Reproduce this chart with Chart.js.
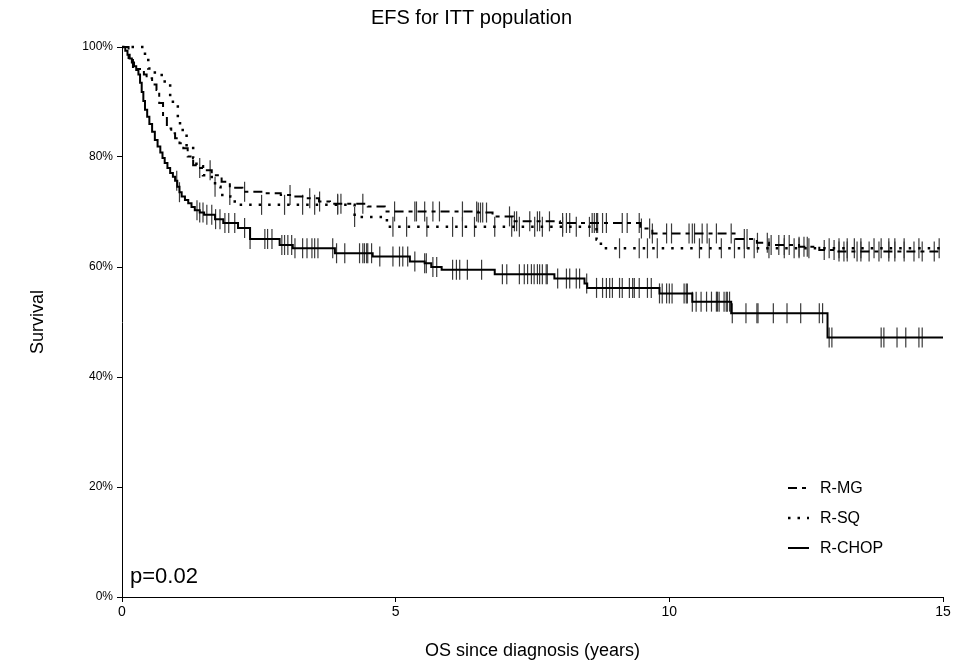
<!DOCTYPE html>
<html>
<head>
<meta charset="utf-8">
<script src="https://cdn.jsdelivr.net/npm/chart.js@4/dist/chart.umd.min.js"></script>
<style>
  html, body { margin: 0; padding: 0; background: #fff; }
  #wrap { width: 969px; height: 664px; }
</style>
</head>
<body>
<div id="wrap"><canvas id="myChart" width="969" height="664"></canvas></div>
<script>
// Kaplan-Meier steps: time (years) and survival (%) after the drop
const mgTime = [0, 0.12, 0.2, 0.4, 0.45, 0.55, 0.63, 0.68, 0.75, 0.82, 0.9, 0.97, 1.05, 1.12, 1.2, 1.3, 1.39, 1.55, 1.64, 1.82, 1.97, 2.2, 2.6, 2.9, 3.1, 3.35, 3.6, 3.8, 4.49, 4.8, 6.5, 6.77, 7.14, 8.0, 9.47, 9.69, 11.04, 11.22, 11.51, 11.6, 11.82, 12.37, 12.74, 13.05, 15];
const mgSurv = [100, 98, 96, 95, 94.3, 93.2, 92.2, 89.8, 87.3, 85.2, 84.3, 83.4, 82.5, 81.6, 80.1, 78.5, 78, 77.6, 76.7, 75.5, 74.4, 73.7, 73.4, 73.1, 72.8, 72.5, 71.9, 71.5, 71, 70.1, 69.9, 69.2, 68.3, 68, 67, 66.1, 66.1, 65.1, 64.9, 64.4, 64, 63.7, 63.1, 62.8, 62.8];

const sqTime = [0, 0.42, 0.48, 0.6, 0.78, 0.88, 0.93, 1.02, 1.06, 1.18, 1.3, 1.36, 1.48, 1.64, 1.7, 1.8, 1.98, 2.06, 2.12, 4.25, 4.84, 8.67, 8.75, 15];
const sqSurv = [100, 98.5, 96.1, 94.9, 93.4, 91, 89.2, 86.7, 84.9, 81.9, 79.8, 78.3, 76.7, 75.8, 74.6, 73.1, 72.8, 71.9, 71.3, 69.1, 67.3, 65, 63.4, 63.4];

const chopTime = [0, 0.06, 0.1, 0.14, 0.18, 0.22, 0.26, 0.3, 0.33, 0.36, 0.39, 0.42, 0.46, 0.5, 0.55, 0.6, 0.65, 0.7, 0.74, 0.78, 0.83, 0.88, 0.93, 0.97, 1.01, 1.05, 1.09, 1.15, 1.21, 1.27, 1.33, 1.42, 1.5, 1.7, 1.85, 2.12, 2.34, 2.88, 3.12, 3.89, 4.58, 5.26, 5.53, 5.65, 5.84, 6.81, 7.9, 8.45, 8.5, 9.82, 10.42, 11.13, 12.89, 15];
const chopSurv = [100, 99.3, 98.6, 97.9, 97.2, 96.5, 95.8, 95, 93.5, 91.8, 90.2, 88.6, 87.3, 86, 84.6, 83.1, 81.9, 80.8, 79.8, 78.9, 78, 77.1, 76.4, 75.7, 74.6, 73.6, 72.8, 72.2, 71.6, 70.9, 70.3, 69.9, 69.5, 68.7, 68, 67.1, 65.1, 64, 63.4, 62.5, 61.9, 61, 60.7, 60, 59.5, 58.7, 57.9, 57, 56.2, 55.2, 53.7, 51.6, 47.2, 47.2];

// censored observations (years)
const mgCensor = [1.42, 1.61, 2.24, 3.07, 3.43, 3.61, 3.94, 4.0, 4.4, 4.98, 5.35, 5.38, 5.53, 5.68, 5.8, 6.22, 6.48, 6.51, 6.55, 6.59, 6.66, 7.08, 7.17, 7.21, 7.45, 7.59, 7.63, 7.81, 8.05, 8.12, 8.18, 8.59, 8.63, 8.67, 8.69, 8.78, 8.85, 9.14, 9.23, 9.45, 9.49, 9.64, 9.69, 9.95, 10.04, 10.36, 10.42, 10.46, 10.6, 10.69, 10.86, 11.13, 11.37, 11.42, 11.61, 11.79, 11.86, 12.0, 12.1, 12.19, 12.37, 12.46, 12.52, 12.83, 13.01, 13.1, 13.19, 13.25, 13.43, 13.5, 13.65, 13.83, 14.01, 14.12, 14.29, 14.47, 14.62, 14.84];
const sqCensor = [1.7, 1.97, 2.55, 2.97, 3.3, 3.52, 3.94, 4.25, 4.95, 5.2, 5.57, 6.04, 6.22, 6.44, 6.81, 7.12, 7.26, 7.54, 7.68, 8.05, 8.3, 8.54, 9.09, 9.45, 9.6, 9.78, 10.55, 10.73, 10.95, 11.19, 11.37, 11.55, 11.82, 12.1, 12.28, 12.37, 12.55, 12.92, 13.1, 13.25, 13.38, 13.5, 13.74, 13.87, 14.01, 14.12, 14.29, 14.56, 14.93];
const chopCensor = [1.0, 1.05, 1.37, 1.42, 1.48, 1.55, 1.64, 1.71, 1.79, 1.88, 1.95, 2.06, 2.24, 2.34, 2.61, 2.66, 2.74, 2.92, 2.97, 3.03, 3.1, 3.16, 3.3, 3.38, 3.47, 3.52, 3.58, 3.85, 3.92, 4.07, 4.34, 4.4, 4.43, 4.47, 4.49, 4.56, 4.71, 4.95, 5.07, 5.13, 5.22, 5.35, 5.53, 5.56, 5.68, 5.75, 6.04, 6.11, 6.17, 6.31, 6.57, 6.95, 7.03, 7.26, 7.35, 7.41, 7.48, 7.53, 7.59, 7.63, 7.68, 7.75, 7.77, 7.96, 8.12, 8.18, 8.3, 8.36, 8.49, 8.67, 8.78, 8.85, 8.91, 8.96, 9.09, 9.14, 9.27, 9.33, 9.36, 9.45, 9.6, 9.67, 9.82, 9.87, 9.95, 10.0, 10.05, 10.27, 10.31, 10.33, 10.42, 10.49, 10.58, 10.68, 10.77, 10.86, 10.88, 10.91, 11.0, 11.04, 11.06, 11.1, 11.15, 11.4, 11.6, 11.62, 11.9, 12.15, 12.4, 12.74, 12.8, 12.92, 12.97, 13.87, 13.92, 14.16, 14.32, 14.56, 14.62];

const xTicks = [0, 5, 10, 15];
const yTicks = [0, 20, 40, 60, 80, 100];

function steps(times, vals) {
  return times.map((t, i) => ({ x: t, y: vals[i] }));
}
// survival at time t (step function)
function survAt(times, vals, t) {
  let v = vals[0];
  for (let i = 0; i < times.length; i++) {
    if (times[i] <= t) v = vals[i]; else break;
  }
  return v;
}
function censorPts(cens, times, vals) {
  return cens.map(t => ({ x: t, y: survAt(times, vals, t) }));
}

const mgDash = [9, 5, 4, 5];
const sqDash = [2.5, 7];

function lineSet(label, data, dash, width) {
  return {
    type: 'line', label: label, data: data, stepped: 'before',
    borderColor: '#000', borderWidth: width, borderDash: dash,
    pointRadius: 0, fill: false, clip: false
  };
}
function censorSet(label, data) {
  return {
    type: 'scatter', label: label, data: data,
    pointStyle: 'line', rotation: 90, pointRadius: 10,
    borderColor: '#3a3a3a', borderWidth: 1.2, clip: false
  };
}

const legendItems = [
  { text: 'R-MG', dash: mgDash, width: 2 },
  { text: 'R-SQ', dash: sqDash, width: 2.5 },
  { text: 'R-CHOP', dash: [], width: 2 }
];

const kmLegend = {
  id: 'kmLegend',
  afterDraw(chart) {
    const ctx = chart.ctx;
    ctx.save();
    ctx.fillStyle = '#000';
    ctx.strokeStyle = '#000';
    ctx.font = "16px 'Liberation Sans', Arial, sans-serif";
    ctx.textBaseline = 'middle';
    legendItems.forEach((it, i) => {
      const y = 488 + i * 30;
      ctx.beginPath();
      ctx.setLineDash(it.dash);
      ctx.lineWidth = it.width;
      ctx.moveTo(788, y);
      ctx.lineTo(809, y);
      ctx.stroke();
      ctx.setLineDash([]);
      ctx.fillText(it.text, 820, y + 1);
    });
    ctx.font = "22px 'Liberation Sans', Arial, sans-serif";
    ctx.textBaseline = 'alphabetic';
    ctx.fillText('p=0.02', 130, 583);
    ctx.restore();
  }
};

const ctx = document.getElementById('myChart');

const data = {
  datasets: [
    lineSet('R-MG', steps(mgTime, mgSurv), mgDash, 2),
    lineSet('R-SQ', steps(sqTime, sqSurv), sqDash, 2.5),
    lineSet('R-CHOP', steps(chopTime, chopSurv), [], 2),
    censorSet('R-MG censored', censorPts(mgCensor, mgTime, mgSurv)),
    censorSet('R-SQ censored', censorPts(sqCensor, sqTime, sqSurv)),
    censorSet('R-CHOP censored', censorPts(chopCensor, chopTime, chopSurv))
  ]
};

const font = "'Liberation Sans', Arial, sans-serif";

const config = {
  type: 'line',
  data: data,
  options: {
    responsive: false,
    animation: false,
    layout: { padding: { left: 0, right: 26, top: 0, bottom: 0 } },
    plugins: {
      legend: { display: false },
      tooltip: { enabled: false },
      title: {
        display: true,
        text: 'EFS for ITT population',
        color: '#000',
        font: { size: 20, family: font, weight: 'normal' },
        padding: { top: 6, bottom: 17 }
      }
    },
    scales: {
      x: {
        type: 'linear', min: 0, max: 15,
        afterBuildTicks: s => { s.ticks = xTicks.map(v => ({ value: v })); },
        afterFit: s => { s.height = 67; },
        grid: { display: true, drawOnChartArea: false, drawTicks: true, tickLength: 5, color: '#000' },
        border: { display: true, color: '#000', width: 1 },
        ticks: { color: '#000', font: { size: 14, family: font }, padding: 2, maxRotation: 0 },
        title: { display: true, text: 'OS since diagnosis (years)', color: '#000', font: { size: 18, family: font }, padding: { top: 12, bottom: 2 } }
      },
      y: {
        type: 'linear', min: 0, max: 100,
        afterBuildTicks: s => { s.ticks = yTicks.map(v => ({ value: v })); },
        afterFit: s => { s.width = 122; },
        grid: { display: true, drawOnChartArea: false, drawTicks: true, tickLength: 5, color: '#000' },
        border: { display: true, color: '#000', width: 1 },
        ticks: { color: '#000', font: { size: 12, family: font }, padding: 4, callback: v => v + '%' },
        title: { display: true, text: 'Survival', color: '#000', font: { size: 18, family: font }, padding: { top: 27, bottom: 0 } }
      }
    }
  },
  plugins: [kmLegend]
};

const myChart = new Chart(ctx, config);
</script>
</body>
</html>
